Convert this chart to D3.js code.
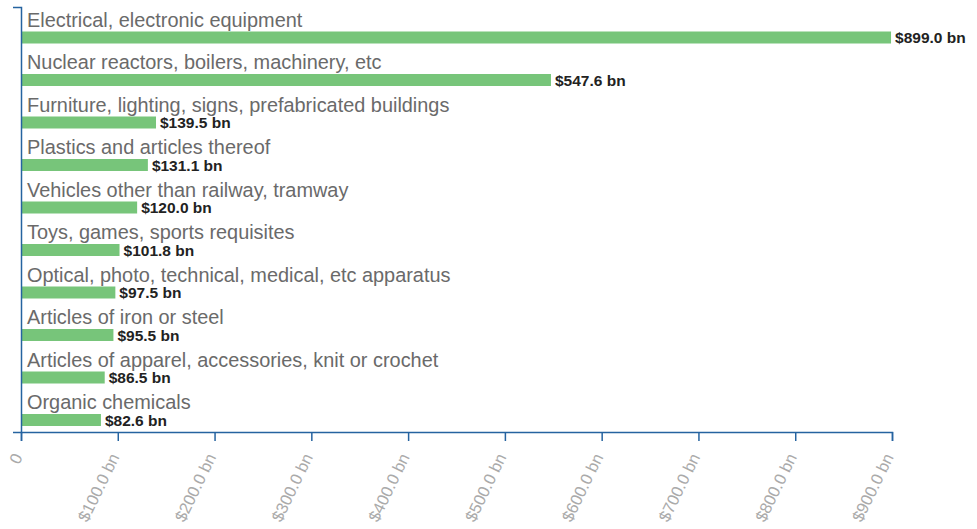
<!DOCTYPE html>
<html>
<head>
<meta charset="utf-8">
<script src="https://cdn.jsdelivr.net/npm/d3@7"></script>
<style>
  body { margin: 0; background: #fff; }
  svg { font-family: "Liberation Sans", Arial, sans-serif; }
</style>
</head>
<body>
<div id="chart"></div>
<script>
// Top import categories, value in $ bn
const categories = [
  'Electrical, electronic equipment',
  'Nuclear reactors, boilers, machinery, etc',
  'Furniture, lighting, signs, prefabricated buildings',
  'Plastics and articles thereof',
  'Vehicles other than railway, tramway',
  'Toys, games, sports requisites',
  'Optical, photo, technical, medical, etc apparatus',
  'Articles of iron or steel',
  'Articles of apparel, accessories, knit or crochet',
  'Organic chemicals'
];
const values = [899.0, 547.6, 139.5, 131.1, 120.0, 101.8, 97.5, 95.5, 86.5, 82.6];
const xTicks = [0, 100, 200, 300, 400, 500, 600, 700, 800, 900];

const width = 977, height = 529;
const margin = { top: 7, right: 85, bottom: 97, left: 21 };
const innerW = width - margin.left - margin.right;
const innerH = height - margin.top - margin.bottom;

const data = categories.map((c, i) => ({ name: c, value: values[i] }));

const fmt = d => d === 0 ? '0' : `$${d.toFixed(1)} bn`;

const svg = d3.select('#chart')
  .append('svg')
  .attr('width', width)
  .attr('height', height);

const g = svg.append('g')
  .attr('transform', `translate(${margin.left},${margin.top})`);

const x = d3.scaleLinear().domain([0, 900]).range([0, innerW]);
const y = d3.scaleBand().domain(categories).range([0, innerH]);

const barH = 12;
const barOffset = y.bandwidth() - 18;

// bars
g.selectAll('.bar')
  .data(data)
  .enter()
  .append('rect')
  .attr('class', 'bar')
  .attr('x', 0)
  .attr('y', d => y(d.name) + barOffset)
  .attr('width', d => x(d.value))
  .attr('height', barH)
  .attr('fill', '#77c57a');

// category labels
g.selectAll('.cat')
  .data(data)
  .enter()
  .append('text')
  .attr('class', 'cat')
  .attr('x', 6)
  .attr('y', d => y(d.name) + 19.5)
  .style('font-size', '19.9px')
  .attr('fill', '#6a6a6a')
  .text(d => d.name);

// value labels
g.selectAll('.val')
  .data(data)
  .enter()
  .append('text')
  .attr('class', 'val')
  .attr('x', d => x(d.value) + 4)
  .attr('y', d => y(d.name) + barOffset + barH - 0.5)
  .style('font-size', '15.5px')
  .style('font-weight', 'bold')
  .attr('fill', '#222')
  .text(d => fmt(d.value));

// axes
const axisColor = '#2563a0';

const yAxis = g.append('g')
  .call(d3.axisLeft(y).tickSize(0).tickSizeOuter(8).tickFormat(''));
yAxis.select('.domain').attr('stroke', axisColor).attr('stroke-width', 1.5);

const xAxis = g.append('g')
  .attr('transform', `translate(0,${innerH})`)
  .call(d3.axisBottom(x).tickValues(xTicks).tickSize(9).tickFormat(fmt));
xAxis.selectAll('path, line').attr('stroke', axisColor).attr('stroke-width', 1.5);
xAxis.selectAll('text')
  .style('font-size', '16.5px')
  .attr('fill', '#aaa')
  .style('text-anchor', 'end')
  .attr('x', 0)
  .attr('y', 0)
  .attr('dy', 0)
  .attr('transform', 'translate(1.5,25) rotate(-64)');
</script>
</body>
</html>
